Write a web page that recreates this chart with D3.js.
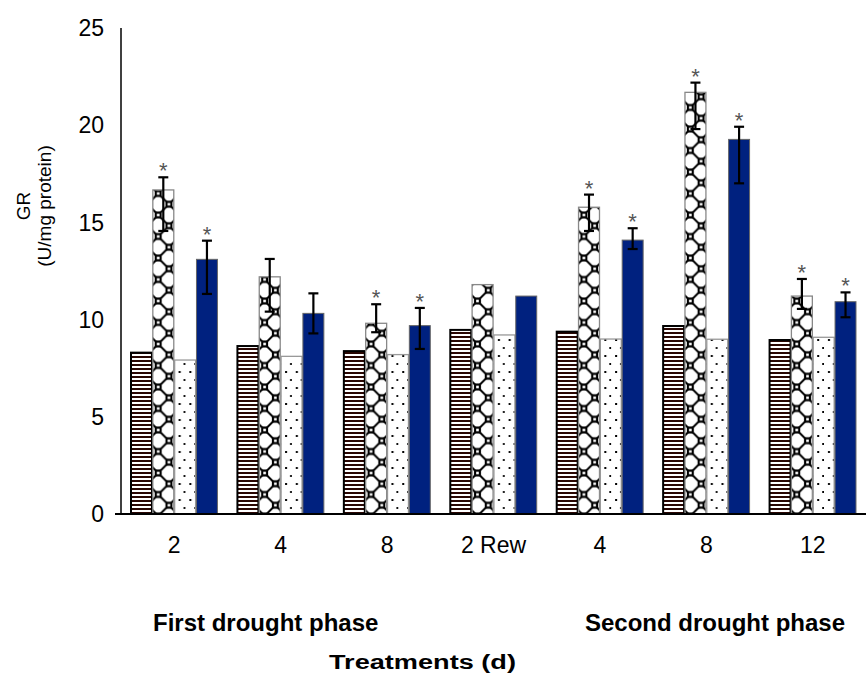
<!DOCTYPE html>
<html lang="en">
<head>
  <meta charset="UTF-8" />
  <title>GR activity across drought phases</title>
  <script src="https://d3js.org/d3.v7.min.js"></script>
  <style>
    body { margin: 0; background: #fff; font-family: "Liberation Sans", Arial, sans-serif; }
    svg { display: block; }
  </style>
</head>
<body>
  <svg width="866" height="675"></svg>
  <script>
    const days = ["2", "4", "8", "2 Rew", "4", "8", "12"];
    const series = ["striped", "checker", "dotted", "solid"];

    const stripedVals = [8.3, 8.64, 8.38, 9.47, 9.38, 9.67, 8.95];
    const checkerVals = [16.67, 12.2, 9.81, 11.8, 15.78, 21.69, 11.21];
    const dottedVals  = [7.92, 8.11, 8.2, 9.21, 9.0, 8.99, 9.09];
    const solidVals   = [13.1, 10.32, 9.69, 11.21, 14.09, 19.27, 10.92];

    // error bar ends (null = no bar)
    const checkerErrHi = [17.32, 13.12, 10.79, null, 16.43, 22.19, 12.09];
    const checkerErrLo = [14.56, 10.41, 9.35, null, 14.56, 19.8, 10.55];
    const solidErrHi   = [14.06, 11.35, 10.6, null, 14.7, 19.92, 11.4];
    const solidErrLo   = [11.32, 9.29, 8.49, null, 13.63, 17.01, 10.12];

    const checkerStar = [1, 0, 1, 0, 1, 1, 1];
    const solidStar   = [1, 0, 1, 0, 1, 1, 1];

    const yTicks = [0, 5, 10, 15, 20, 25];

    const valsBySeries = {striped: stripedVals, checker: checkerVals, dotted: dottedVals, solid: solidVals};
    const errBySeries = {
      checker: {hi: checkerErrHi, lo: checkerErrLo, star: checkerStar},
      solid: {hi: solidErrHi, lo: solidErrLo, star: solidStar}
    };

    const svg = d3.select("svg");
    const plotLeft = 121, plotRight = 866, plotTop = 28, plotBottom = 514;

    const x0 = d3.scaleBand().domain(d3.range(days.length)).range([plotLeft, plotRight]);
    const x1 = d3.scaleBand().domain(series).range([10, x0.bandwidth() - 10]).paddingInner(0.04);
    const y = d3.scaleLinear().domain([0, 25]).range([plotBottom, plotTop]);

    // fill patterns
    const defs = svg.append("defs");
    const pStripe = defs.append("pattern").attr("id", "p-striped")
      .attr("patternUnits", "userSpaceOnUse").attr("width", 8).attr("height", 4);
    pStripe.append("rect").attr("width", 8).attr("height", 4).attr("fill", "#fff");
    pStripe.append("rect").attr("width", 8).attr("height", 2).attr("fill", "#2a0703");

    const t = 21.5, h = t / 2, q = t / 4;
    const pCheck = defs.append("pattern").attr("id", "p-checker")
      .attr("patternUnits", "userSpaceOnUse").attr("width", t).attr("height", t);
    pCheck.append("rect").attr("width", t).attr("height", t).attr("fill", "#fff");
    const zig = [
      [[q, 0], [3 * q, h]], [[3 * q, h], [q, t]], [[q, 0], [-q, h]], [[q, t], [-q, h]],
      [[3 * q, h], [5 * q, 0]], [[3 * q, h], [5 * q, t]]
    ];
    zig.forEach(([a, b]) => pCheck.append("line")
      .attr("x1", a[0]).attr("y1", a[1]).attr("x2", b[0]).attr("y2", b[1])
      .attr("stroke", "#000").attr("stroke-width", 2));
    [[q, 0], [q, t], [3 * q, h]].forEach(([cx, cy]) => {
      pCheck.append("rect").attr("x", cx - 3.5).attr("y", cy - 3.5).attr("width", 7).attr("height", 7).attr("fill", "#000");
      pCheck.append("rect").attr("x", cx - 1.3).attr("y", cy - 1.3).attr("width", 2.6).attr("height", 2.6).attr("fill", "#fff");
    });

    const pDot = defs.append("pattern").attr("id", "p-dotted")
      .attr("patternUnits", "userSpaceOnUse").attr("width", 10.75).attr("height", 16);
    pDot.append("rect").attr("width", 10.75).attr("height", 16).attr("fill", "#fff");
    pDot.append("rect").attr("x", 4).attr("y", 3).attr("width", 2).attr("height", 2).attr("fill", "#000");
    pDot.append("rect").attr("x", 9).attr("y", 11).attr("width", 2).attr("height", 2).attr("fill", "#000");

    const fills = {striped: "url(#p-striped)", checker: "url(#p-checker)", dotted: "url(#p-dotted)", solid: "#00217f"};
    const strokes = {striped: "#000", checker: "#888", dotted: "#999", solid: "#666"};
    const strokeW = {striped: 2, checker: 1.3, dotted: 1.3, solid: 1};

    // bars
    const groups = svg.append("g").selectAll("g")
      .data(days.map((d, i) => i))
      .join("g")
      .attr("transform", i => `translate(${x0(i)},0)`);

    groups.each(function (i) {
      const g = d3.select(this);
      series.forEach(s => {
        const v = valsBySeries[s][i];
        const bg = g.append("g").attr("transform", `translate(${x1(s)},0)`);
        bg.append("rect")
          .attr("x", 0).attr("y", y(v))
          .attr("width", x1.bandwidth()).attr("height", y(0) - y(v))
          .attr("fill", fills[s]).attr("stroke", strokes[s]).attr("stroke-width", strokeW[s]);
      });
    });

    // error bars and stars
    groups.each(function (i) {
      const g = d3.select(this);
      Object.entries(errBySeries).forEach(([s, e]) => {
        if (e.hi[i] == null) return;
        const cx = x1(s) + x1.bandwidth() / 2;
        const eg = g.append("g").attr("stroke", "#000").attr("stroke-width", 2.2);
        eg.append("line").attr("x1", cx).attr("x2", cx).attr("y1", y(e.hi[i])).attr("y2", y(e.lo[i]));
        eg.append("line").attr("x1", cx - 5).attr("x2", cx + 5).attr("y1", y(e.hi[i])).attr("y2", y(e.hi[i]));
        eg.append("line").attr("x1", cx - 5).attr("x2", cx + 5).attr("y1", y(e.lo[i])).attr("y2", y(e.lo[i]));
        if (e.star[i]) {
          g.append("text").attr("x", cx).attr("y", y(e.hi[i]) + 1)
            .attr("text-anchor", "middle").attr("font-size", 22).attr("fill", "#555")
            .text("*");
        }
      });
    });

    // axes
    svg.append("line").attr("x1", plotLeft).attr("x2", plotLeft).attr("y1", plotTop).attr("y2", plotBottom)
      .attr("stroke", "#000").attr("stroke-width", 1.5);
    svg.append("line").attr("x1", plotLeft - 6).attr("x2", plotRight).attr("y1", plotBottom).attr("y2", plotBottom)
      .attr("stroke", "#000").attr("stroke-width", 2);

    svg.append("g").selectAll("text").data(yTicks).join("text")
      .attr("x", 104).attr("y", d => y(d)).attr("dy", "0.36em")
      .attr("text-anchor", "end").attr("font-size", 23).attr("fill", "#000")
      .text(d => d);

    svg.append("g").selectAll("text").data(days).join("text")
      .attr("x", (d, i) => x0(i) + x0.bandwidth() / 2).attr("y", 553)
      .attr("text-anchor", "middle").attr("font-size", 23).attr("fill", "#000")
      .text(d => d);

    // y label
    const yl = svg.append("g").attr("transform", "translate(0,206) rotate(-90)");
    yl.append("text").attr("x", 0).attr("y", 30).attr("text-anchor", "middle")
      .attr("font-size", 19).text("GR");
    yl.append("text").attr("x", 0).attr("y", 51).attr("text-anchor", "middle")
      .attr("font-size", 19).text("(U/mg protein)");

    // phase labels and axis title
    svg.append("text").attr("x", 153).attr("y", 631).attr("font-size", 24).attr("font-weight", "bold")
      .text("First drought phase");
    svg.append("text").attr("x", 585).attr("y", 631).attr("font-size", 24).attr("font-weight", "bold")
      .text("Second drought phase");
    svg.append("text").attr("x", 329).attr("y", 669).attr("font-size", 20).attr("font-weight", "bold")
      .attr("textLength", 187).attr("lengthAdjust", "spacingAndGlyphs").text("Treatments  (d)");
  </script>
</body>
</html>
